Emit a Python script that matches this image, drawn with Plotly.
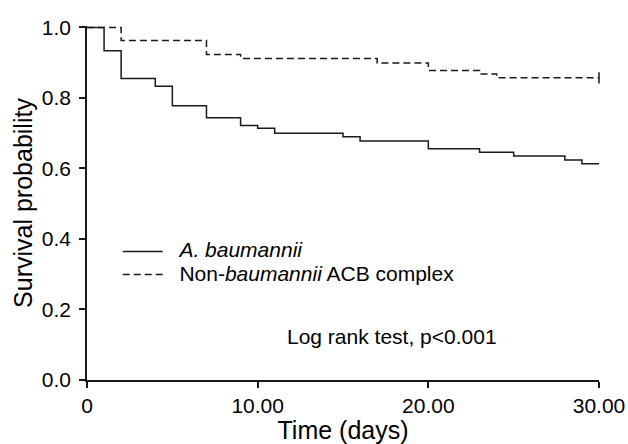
import plotly.graph_objects as go

# Kaplan-Meier step data
ab_days = [0, 1, 2, 4, 5, 7, 9, 10, 11, 15, 16, 20, 23, 25, 28, 29, 30]
ab_surv = [1.0, 0.934, 0.855, 0.833, 0.778, 0.744, 0.722, 0.714, 0.700,
           0.690, 0.678, 0.656, 0.646, 0.635, 0.624, 0.613, 0.613]

nb_days = [0, 2, 7, 9, 17, 20, 23, 24, 30]
nb_surv = [1.0, 0.963, 0.923, 0.912, 0.899, 0.878, 0.868, 0.857, 0.857]

censor_days = [30]
censor_surv = [0.857]

series_names = ["<i>A. baumannii</i>", "Non-<i>baumannii</i> ACB complex"]

x_tickvals = [0, 10, 20, 30]
x_ticktext = ["0", "10.00", "20.00", "30.00"]
y_tickvals = [0.0, 0.2, 0.4, 0.6, 0.8, 1.0]

FONT = "Arial, Liberation Sans, sans-serif"
INK = "#1a1a1a"


def big(s):
    return '<span style="font-size:21px">\u00a0\u00a0' + s + '</span>'


fig = go.Figure()
fig.add_trace(go.Scatter(
    x=ab_days, y=ab_surv, mode="lines", line_shape="hv",
    line=dict(color=INK, width=1.5),
    name=big(series_names[0])))
fig.add_trace(go.Scatter(
    x=nb_days, y=nb_surv, mode="lines", line_shape="hv",
    line=dict(color=INK, width=1.5, dash="7px,4px"),
    name=big(series_names[1])))
fig.add_trace(go.Scatter(
    x=censor_days, y=censor_surv, mode="markers", showlegend=False,
    cliponaxis=False,
    marker=dict(symbol="line-ns", size=8, line=dict(color=INK, width=1.5))))

fig.add_annotation(x=17.9, y=0.124, xref="x", yref="y",
                   text="Log rank test, p<0.001", showarrow=False,
                   font=dict(family=FONT, size=21, color="black"))

fig.update_layout(
    width=628, height=444,
    margin=dict(l=87, r=29, t=26, b=64),
    paper_bgcolor="white", plot_bgcolor="white",
    font=dict(family=FONT, size=21, color="black"),
    showlegend=True,
    legend=dict(x=0.06, y=0.41, xanchor="left", yanchor="top",
                bgcolor="rgba(0,0,0,0)", borderwidth=0,
                font=dict(family=FONT, size=15.5, color="black"),
                itemwidth=40, tracegroupgap=0),
)
fig.update_xaxes(
    range=[0, 30], showgrid=False, zeroline=False, automargin=False,
    showline=True, linecolor=INK, linewidth=1.5,
    ticks="outside", ticklen=6, tickwidth=1.5, tickcolor=INK,
    tickvals=x_tickvals, ticktext=x_ticktext,
    title=dict(text="Time (days)"),
)
fig.update_yaxes(
    range=[0, 1.004], showgrid=False, zeroline=False, automargin=True,
    showline=True, linecolor=INK, linewidth=1.5,
    ticks="outside", ticklen=6, tickwidth=1.5, tickcolor=INK,
    tickvals=y_tickvals, tickformat=".1f", ticklabelstandoff=4,
    title=dict(text="Survival probability", standoff=2),
)

fig.write_html("out.html",
               config={"displayModeBar": False},
               post_script="document.body.style.margin='0';"
                           "document.body.style.overflow='hidden';")
